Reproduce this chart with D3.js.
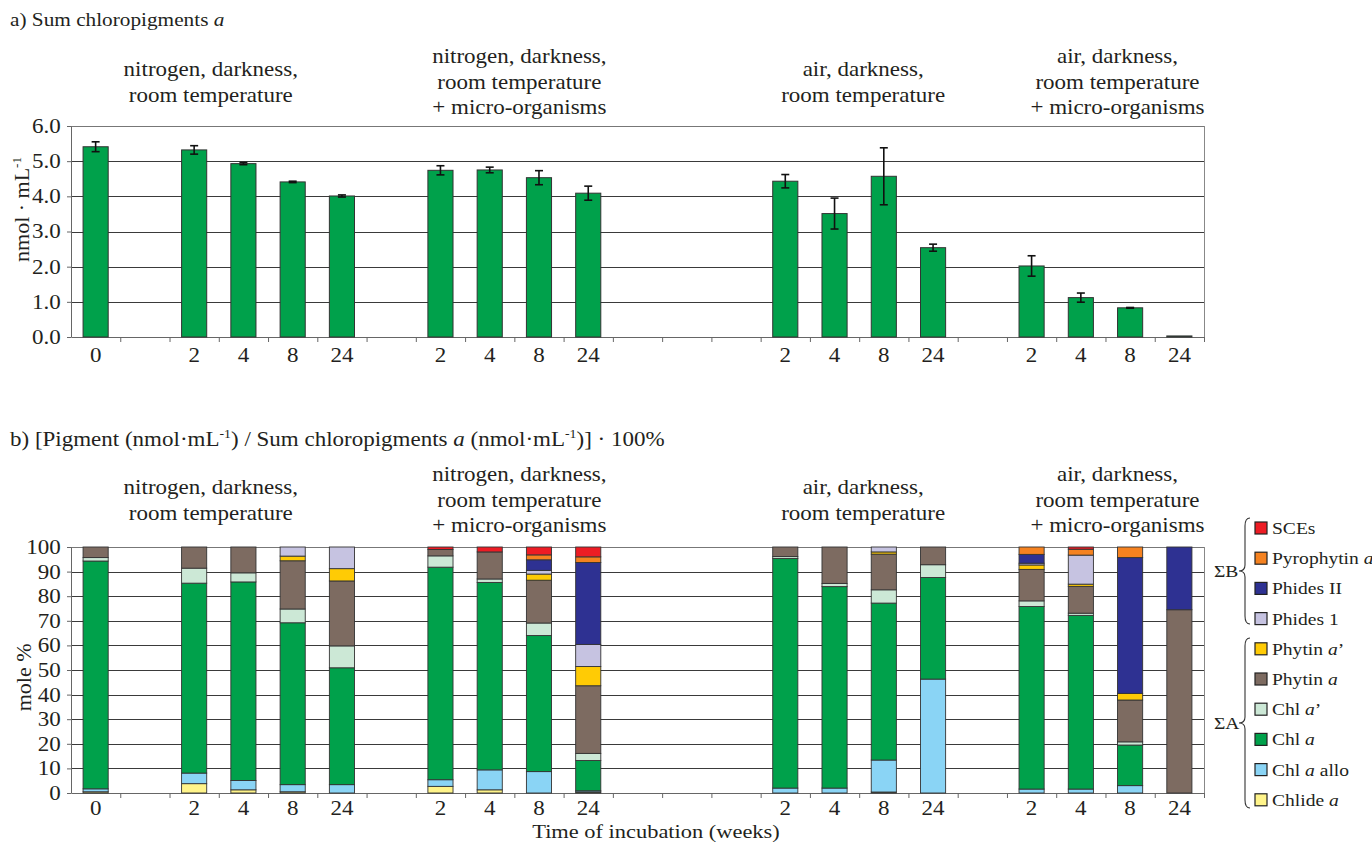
<!DOCTYPE html>
<html lang="en">
<head>
<meta charset="utf-8">
<title>Chloropigments a during incubation</title>
<script src="https://cdn.jsdelivr.net/npm/d3@7"></script>
<style>
  body { margin: 0; background: #fff; }
  svg text { font-family: "Liberation Serif", "Times New Roman", serif; fill: #231f20; }
</style>
</head>
<body>
<script>
// slots along the x axis, "·n" are empty spacer slots
var xCategories = ["N 0", "·1", "N 2", "N 4", "N 8", "N 24", "·2",
                   "NM 2", "NM 4", "NM 8", "NM 24", "·3", "·4", "·5",
                   "A 2", "A 4", "A 8", "A 24", "·6",
                   "AM 2", "AM 4", "AM 8", "AM 24"];
var samples = ["N 0", "N 2", "N 4", "N 8", "N 24",
               "NM 2", "NM 4", "NM 8", "NM 24",
               "A 2", "A 4", "A 8", "A 24",
               "AM 2", "AM 4", "AM 8", "AM 24"];
var groupNames = [
  ["nitrogen, darkness,", "room temperature"],
  ["nitrogen, darkness,", "room temperature", "+ micro-organisms"],
  ["air, darkness,", "room temperature"],
  ["air, darkness,", "room temperature", "+ micro-organisms"]
];
var groupPrefix = ["N", "NM", "A", "AM"];

// a) sum of chloropigments a (nmol/mL) and error bars
var sumValues = [5.41, 5.32, 4.93, 4.41, 4.01, 4.74, 4.75, 4.53, 4.09, 4.43, 3.51, 4.57, 2.54, 2.02, 1.12, 0.83, 0.03];
var sumErrors = [0.14, 0.12, 0.03, 0.02, 0.03, 0.13, 0.08, 0.20, 0.20, 0.19, 0.44, 0.81, 0.10, 0.29, 0.13, 0.01, 0.0];

// b) mole % of each pigment, bottom of stack first
var pigments = ["Chlide a", "Chl a allo", "Chl a", "Chl a'", "Phytin a", "Phytin a'", "Phides 1", "Phides II", "Pyrophytin a", "SCEs"];
var chlide      = [0.5, 3.8, 1.3, 0.5, 0,    2.7, 1.3, 0,    0.4,  0,    0,    0.4,  0,    0,    0,    0,    0];
var chlAllo     = [1.2, 4.3, 3.8, 2.9, 3.4,  2.7, 8.1, 8.7,  0.5,  2.0,  2.0,  13.0, 46.3, 1.6,  1.6,  3.0,  0];
var chlA        = [92.6, 77.2, 80.7, 65.8, 47.5, 86.4, 76.2, 55.3, 12.3, 93.3, 81.9, 63.8, 41.3, 74.2, 70.6, 16.5, 0];
var chlAPrime   = [1.4, 6.1, 3.7, 5.6, 8.9,  4.6, 1.4, 5.1,  2.9,  0.8,  1.3,  5.4,  5.2,  2.3,  0.9,  1.3,  0];
var phytinA     = [4.3, 8.6, 10.5, 19.6, 26.4, 2.6, 11.0, 17.4, 27.5, 3.9, 14.8, 14.5, 7.2, 12.8, 10.9, 17.0, 74.5];
var phytinAPrime= [0, 0, 0, 1.9, 5.0,  0, 0, 2.5, 7.8,  0, 0, 0.9, 0,  1.8, 0.9, 2.7, 0];
var phides1     = [0, 0, 0, 3.7, 8.8,  0, 0, 1.5, 9.0,  0, 0, 2.0, 0,  0.7, 11.8, 0, 0];
var phides2     = [0, 0, 0, 0, 0,      0, 0, 4.3, 33.3, 0, 0, 0, 0,    3.6, 0, 55.2, 25.5];
var pyrophytin  = [0, 0, 0, 0, 0,      0, 0, 2.0, 2.3,  0, 0, 0, 0,    3.0, 2.4, 4.3, 0];
var sces        = [0, 0, 0, 0, 0,      1.0, 2.0, 3.2, 4.0, 0, 0, 0, 0, 0, 0.9, 0, 0];
var pigmentValues = [chlide, chlAllo, chlA, chlAPrime, phytinA, phytinAPrime, phides1, phides2, pyrophytin, sces];
var pigmentColors = ["#fff48a", "#8ad4f5", "#00a14b", "#cce8d6", "#7d6b61", "#ffcb05", "#c6c3e1", "#2e3192", "#f58220", "#ed1c24"];

var W = 1372, H = 843;
var SX = 1.15; // the original text is a little stretched sideways
var textColor = "#231f20";

var svg = d3.select("body").append("svg").attr("width", W).attr("height", H);

var x = d3.scaleBand().domain(xCategories).range([71, 1204])
  .paddingInner(0.49).paddingOuter(0.245);
var xEdge = d3.scaleLinear().domain([0, xCategories.length]).range([71, 1204]);

// writes a line of text made of parts [string, italic?, superscript?, back to baseline?]
function richText(g, px, py, parts, size, anchor) {
  var t = g.append("text")
    .attr("transform", "translate(" + px + "," + py + ") scale(" + SX + ",1)")
    .attr("text-anchor", anchor || "start")
    .style("font-size", size + "px");
  parts.forEach(function(p) {
    var ts = t.append("tspan").text(p[0]);
    if (p[1]) ts.style("font-style", "italic");
    if (p[2]) ts.attr("dy", -size * 0.38).style("font-size", (size * 0.6) + "px");
    if (p[3]) ts.attr("dy", size * 0.38);
  });
  return t;
}

function groupLabels(g, firstBaseline) {
  var dxs = [-8, 5, 4, 12];
  groupPrefix.forEach(function(pre, gi) {
    var keys = samples.filter(function(s) { return s.split(" ")[0] === pre; });
    var x0 = x(keys[0]), x1 = x(keys[keys.length - 1]) + x.bandwidth();
    var cx = (x0 + x1) / 2 + dxs[gi];
    var lines = groupNames[gi];
    var top = firstBaseline + (3 - lines.length) * 13;
    lines.forEach(function(line, li) {
      richText(g, cx, top + li * 25.5, [[line]], 20, "middle");
    });
  });
}

function drawFrame(g, y, ticks, fmt, pad) {
  var x0 = 71, x1 = 1204;
  // horizontal grid lines
  g.append("g").selectAll("line").data(ticks.filter(function(t) { return t > 0; }))
    .join("line")
    .attr("x1", x0).attr("x2", x1)
    .attr("y1", function(d) { return Math.round(y(d)) + 0.5; })
    .attr("y2", function(d) { return Math.round(y(d)) + 0.5; })
    .attr("stroke", function(d, i, a) { return i === a.length - 1 ? "#777" : "#3a3a3a"; })
    .attr("stroke-width", 1.2);
  // right border
  g.append("line").attr("x1", x1 + 0.5).attr("x2", x1 + 0.5)
    .attr("y1", y(ticks[ticks.length - 1])).attr("y2", y(0))
    .attr("stroke", "#888").attr("stroke-width", 1);

  var yAxis = g.append("g").attr("transform", "translate(" + x0 + ",0)")
    .call(d3.axisLeft(y).tickValues(ticks).tickFormat(fmt).tickSize(4).tickSizeOuter(0).tickPadding(5));
  yAxis.selectAll("text").attr("transform", "scale(" + SX + ",1)")
    .style("font-size", "20px").attr("fill", textColor);
  yAxis.selectAll("line, path").attr("stroke", "#666");

  var edge = g.append("g").attr("transform", "translate(0," + y(0) + ")")
    .call(d3.axisBottom(xEdge).tickValues(d3.range(1, xCategories.length + 1)).tickFormat("").tickSize(5).tickSizeOuter(0));
  edge.selectAll("line, path").attr("stroke", "#666");

  var lab = g.append("g").attr("transform", "translate(0," + y(0) + ")")
    .call(d3.axisBottom(x).tickSize(0).tickPadding(pad)
      .tickFormat(function(k) { return k.charAt(0) === "·" ? "" : k.split(" ")[1]; }));
  lab.select(".domain").remove();
  lab.selectAll("text").attr("transform", "scale(" + SX + ",1)")
    .style("font-size", "20px").attr("fill", textColor);
}

// ---------- a) ----------
var yTop = d3.scaleLinear().domain([0, 6]).range([337, 126]);
var gA = svg.append("g");
richText(gA, 10, 26, [["a) Sum chloropigments "], ["a", true]], 18.5);
groupLabels(gA, 63);
drawFrame(gA, yTop, [0, 1, 2, 3, 4, 5, 6], d3.format(".1f"), 11);

gA.append("g").selectAll("rect").data(samples).join("rect")
  .attr("x", function(d) { return x(d); })
  .attr("width", x.bandwidth())
  .attr("y", function(d, i) { return yTop(sumValues[i]); })
  .attr("height", function(d, i) { return yTop(0) - yTop(sumValues[i]); })
  .attr("fill", "#00a14b").attr("stroke", "#333").attr("stroke-width", 1);

var err = gA.append("g").attr("stroke", "#111").attr("stroke-width", 1.6);
samples.forEach(function(s, i) {
  if (sumErrors[i] <= 0) return;
  var cx = x(s) + x.bandwidth() / 2;
  var lo = yTop(sumValues[i] - sumErrors[i]), hi = yTop(sumValues[i] + sumErrors[i]);
  err.append("line").attr("x1", cx).attr("x2", cx).attr("y1", lo).attr("y2", hi);
  err.append("line").attr("x1", cx - 4).attr("x2", cx + 4).attr("y1", lo).attr("y2", lo);
  err.append("line").attr("x1", cx - 4).attr("x2", cx + 4).attr("y1", hi).attr("y2", hi);
});

gA.append("text")
  .attr("transform", "translate(29," + (yTop(3) - 22) + ") rotate(-90)")
  .attr("text-anchor", "middle").style("font-size", "22px")
  .call(function(t) {
    t.append("tspan").text("nmol · mL");
    t.append("tspan").attr("dy", -8).style("font-size", "13px").text("-1");
  });

// ---------- b) ----------
var yBot = d3.scaleLinear().domain([0, 100]).range([793, 547]);
var gB = svg.append("g");
richText(gB, 10, 446, [["b) [Pigment  (nmol·mL"], ["-1", false, true], [") / Sum chloropigments ", false, false, true],
  ["a", true], [" (nmol·mL"], ["-1", false, true], [")] · 100%", false, false, true]], 20);
groupLabels(gB, 481);
drawFrame(gB, yBot, d3.range(0, 101, 10), d3.format("d"), 8);

var rows = samples.map(function(s, i) {
  var r = { sample: s };
  pigments.forEach(function(p, j) { r[p] = pigmentValues[j][i]; });
  return r;
});
var stacked = d3.stack().keys(pigments)(rows);
var color = d3.scaleOrdinal().domain(pigments).range(pigmentColors);

gB.append("g").selectAll("g").data(stacked).join("g")
  .attr("fill", function(d) { return color(d.key); })
  .selectAll("rect").data(function(d) { return d.filter(function(v) { return v[1] - v[0] > 0; }); })
  .join("rect")
  .attr("x", function(d) { return x(d.data.sample); })
  .attr("width", x.bandwidth())
  .attr("y", function(d) { return yBot(d[1]); })
  .attr("height", function(d) { return yBot(d[0]) - yBot(d[1]); })
  .attr("stroke", "#333").attr("stroke-width", 0.9);

gB.append("text")
  .attr("transform", "translate(31," + yBot(47) + ") rotate(-90)")
  .attr("text-anchor", "middle").style("font-size", "22px").text("mole %");

richText(gB, 656, 838, [["Time of incubation (weeks)"]], 19.5, "middle");

// legend
var legendLabels = {
  "SCEs": [["SCEs"]],
  "Pyrophytin a": [["Pyrophytin "], ["a", true]],
  "Phides II": [["Phides II"]],
  "Phides 1": [["Phides  1"]],
  "Phytin a'": [["Phytin "], ["a", true], ["’"]],
  "Phytin a": [["Phytin "], ["a", true]],
  "Chl a'": [["Chl "], ["a", true], ["’"]],
  "Chl a": [["Chl "], ["a", true]],
  "Chl a allo": [["Chl "], ["a", true], [" allo"]],
  "Chlide a": [["Chlide "], ["a", true]]
};
var legendOrder = pigments.slice().reverse();
var leg = svg.append("g");
legendOrder.forEach(function(p, i) {
  var cy = 528 + i * 30.2;
  leg.append("rect").attr("x", 1255).attr("y", cy - 6).attr("width", 12).attr("height", 12)
    .attr("fill", color(p)).attr("stroke", "#222").attr("stroke-width", 1.2);
  richText(leg, 1272, cy + 6, legendLabels[p], 17);
});

function brace(y1, y2) {
  var xr = 1250, xs = 1245, xt = 1239, ym = (y1 + y2) / 2;
  return "M" + xr + "," + y1 + " Q" + xs + "," + y1 + " " + xs + "," + (y1 + 8) +
    " L" + xs + "," + (ym - 6) + " Q" + xs + "," + ym + " " + xt + "," + ym +
    " Q" + xs + "," + ym + " " + xs + "," + (ym + 6) +
    " L" + xs + "," + (y2 - 8) + " Q" + xs + "," + y2 + " " + xr + "," + y2;
}
leg.append("path").attr("d", brace(518, 624)).attr("fill", "none").attr("stroke", "#333").attr("stroke-width", 1.1);
leg.append("path").attr("d", brace(638, 808)).attr("fill", "none").attr("stroke", "#333").attr("stroke-width", 1.1);
richText(leg, 1214, 577, [["ΣB"]], 17);
richText(leg, 1214, 729, [["ΣA"]], 17);
</script>
</body>
</html>
